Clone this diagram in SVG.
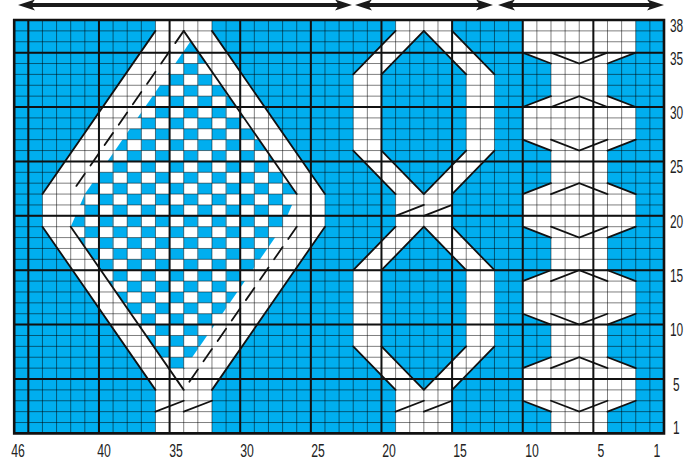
<svg xmlns="http://www.w3.org/2000/svg" width="687" height="465" viewBox="0 0 687 465">
<defs>
<style>
.thin{fill:none;stroke:#000;stroke-opacity:.5;stroke-width:1;vector-effect:non-scaling-stroke}
.thick{fill:none;stroke:#111;stroke-width:2;vector-effect:non-scaling-stroke}
.frame{fill:none;stroke:#111;stroke-width:2.6;vector-effect:non-scaling-stroke}
.mot{fill:none;stroke:#111;stroke-width:1.8;stroke-linecap:round;vector-effect:non-scaling-stroke}
.w{fill:#fff}
.lab{font-family:"Liberation Sans",Arial,sans-serif;font-size:18px;fill:#222}
.arr{fill:#1a1a1a}
</style>
<pattern id="chk" patternUnits="userSpaceOnUse" x="0" y="0" width="2" height="2">
<rect x="0" y="0" width="2" height="2" fill="#00AEEF"/>
<rect x="1" y="0" width="1" height="1" fill="#fff"/>
<rect x="0" y="1" width="1" height="1" fill="#fff"/>
</pattern>
</defs>
<rect width="687" height="465" fill="#fff"/>
<g id="chart" transform="translate(14.2,20) scale(14.126,10.879)">
<rect x="0" y="0" width="46" height="38" fill="#00AEEF"/>
<g id="diamond">
<path class="w" d="M10 0H14V1L22 16V19L14 34V38H10V34L2 19V16L10 1Z"/>
<path fill="url(#chk)" d="M12.5 1.94L20 16L19 19L11.5 33.06L4 19L5 16Z"/>
</g>
<g id="eight">
<path class="w" fill-rule="evenodd" d="M27 0H31V1L34 5V12L31 16V19L34 23V30L31 34V38H27V34L24 30V23L27 19V16L24 12V5L27 1Z M29 1L32 5V12L29 16L26 12V5Z M29 19L32 23V30L29 34L26 30V23Z"/>
</g>
<g id="hexcable">
<path class="w" d="M36 0H44V3L42 4V7L44 8V11L42 12V15L44 16V19L42 20V23L44 24V27L42 28V31L44 32V35L42 36V38H38V36L36 35V32L38 31V28L36 27V24L38 23V20L36 19V16L38 15V12L36 11V8L38 7V4L36 3Z"/>
</g>
<g id="grid">
<path class="thin" d="M1 0V38M2 0V38M3 0V38M4 0V38M5 0V38M6 0V38M7 0V38M8 0V38M9 0V38M10 0V38M11 0V38M12 0V38M13 0V38M14 0V38M15 0V38M16 0V38M17 0V38M18 0V38M19 0V38M20 0V38M21 0V38M22 0V38M23 0V38M24 0V38M25 0V38M26 0V38M27 0V38M28 0V38M29 0V38M30 0V38M31 0V38M32 0V38M33 0V38M34 0V38M35 0V38M36 0V38M37 0V38M38 0V38M39 0V38M40 0V38M41 0V38M42 0V38M43 0V38M44 0V38M45 0V38"/>
<path class="thin" d="M0 1H46M0 2H46M0 3H46M0 4H46M0 5H46M0 6H46M0 7H46M0 8H46M0 9H46M0 10H46M0 11H46M0 12H46M0 13H46M0 14H46M0 15H46M0 16H46M0 17H46M0 18H46M0 19H46M0 20H46M0 21H46M0 22H46M0 23H46M0 24H46M0 25H46M0 26H46M0 27H46M0 28H46M0 29H46M0 30H46M0 31H46M0 32H46M0 33H46M0 34H46M0 35H46M0 36H46M0 37H46"/>
<path class="thick" d="M1 0V38M6 0V38M11 0V38M16 0V38M21 0V38M26 0V38M31 0V38M36 0V38M41 0V38M0 3H46M0 8H46M0 13H46M0 18H46M0 23H46M0 28H46M0 33H46"/>
<rect class="frame" x="0" y="0" width="46" height="38"/>
</g>
<g id="cable-lines">
<path class="mot" d="M10 1L2 16M14 1L22 16M12 1L20 16M2 19L10 34M4 19L12 34M22 19L14 34M10 36L12 35M12 36L14 35"/>
<path class="mot" d="M12 1L11.4 2.125M11 2.875L10.4 4M10 4.75L9.4 5.875M9 6.625L8.4 7.75M8 8.5L7.4 9.625M7 10.375L6.4 11.5M6 12.25L5.4 13.375M5 14.125L4.4 15.25"/>
<path class="mot" d="M20 19L19.4 20.125M19 20.875L18.4 22M18 22.75L17.4 23.875M17 24.625L16.4 25.75M16 26.5L15.4 27.625M15 28.375L14.4 29.5M14 30.25L13.4 31.375M13 32.125L12.4 33.25"/>
<path class="mot" d="M27 1L24 5M29 1L26 5M29 1L32 5M31 1L34 5M24 12L27 16M26 12L29 16M32 12L29 16M34 12L31 16M27 19L24 23M29 19L26 23M29 19L32 23M31 19L34 23M24 30L27 34M26 30L29 34M32 30L29 34M34 30L31 34M27 18L29 17M29 18L31 17M27 36L29 35M29 36L31 35"/>
<path class="mot" d="M36 3L38 4M38 3L40 4L42 3M42 4L44 3M36 11L38 12M38 11L40 12L42 11M42 12L44 11M36 19L38 20M38 19L40 20L42 19M42 20L44 19M36 27L38 28M38 27L40 28L42 27M42 28L44 27M36 35L38 36M38 35L40 36L42 35M42 36L44 35"/>
<path class="mot" d="M36 8L38 7M38 8L40 7L42 8M42 7L44 8M36 16L38 15M38 16L40 15L42 16M42 15L44 16M36 24L38 23M38 24L40 23L42 24M42 23L44 24M36 32L38 31M38 32L40 31L42 32M42 31L44 32"/>
</g>
</g>
<g id="connectors">
<path d="M30 5H340M367 5H481M510 5H652" stroke="#1a1a1a" stroke-width="4.2" fill="none"/>
<path class="arr" d="M18 5L35 -0.5L31 5L35 10.5Z"/>
<path class="arr" d="M352 5L335 -0.5L339 5L335 10.5Z"/>
<path class="arr" d="M355 5L372 -0.5L368 5L372 10.5Z"/>
<path class="arr" d="M493 5L476 -0.5L480 5L476 10.5Z"/>
<path class="arr" d="M498 5L515 -0.5L511 5L515 10.5Z"/>
<path class="arr" d="M664 5L647 -0.5L651 5L647 10.5Z"/>
</g>
<g id="col-labels" class="lab" text-anchor="middle">
<text transform="translate(18,457) scale(0.68,1)">46</text>
<text transform="translate(104,457) scale(0.68,1)">40</text>
<text transform="translate(176,457) scale(0.68,1)">35</text>
<text transform="translate(247,457) scale(0.68,1)">30</text>
<text transform="translate(318,457) scale(0.68,1)">25</text>
<text transform="translate(389,457) scale(0.68,1)">20</text>
<text transform="translate(460,457) scale(0.68,1)">15</text>
<text transform="translate(532,457) scale(0.68,1)">10</text>
<text transform="translate(601,457) scale(0.68,1)">5</text>
<text transform="translate(657,457) scale(0.68,1)">1</text>
</g>
<g id="row-labels" class="lab">
<text transform="translate(670,31.8) scale(0.66,1)">38</text>
<text transform="translate(670,64.5) scale(0.66,1)">35</text>
<text transform="translate(670,118.9) scale(0.66,1)">30</text>
<text transform="translate(670,173.3) scale(0.66,1)">25</text>
<text transform="translate(670,227.7) scale(0.66,1)">20</text>
<text transform="translate(670,282.1) scale(0.66,1)">15</text>
<text transform="translate(670,336.4) scale(0.66,1)">10</text>
<text transform="translate(673,390.8) scale(0.66,1)">5</text>
<text transform="translate(673,434.3) scale(0.66,1)">1</text>
</g>
</svg>
